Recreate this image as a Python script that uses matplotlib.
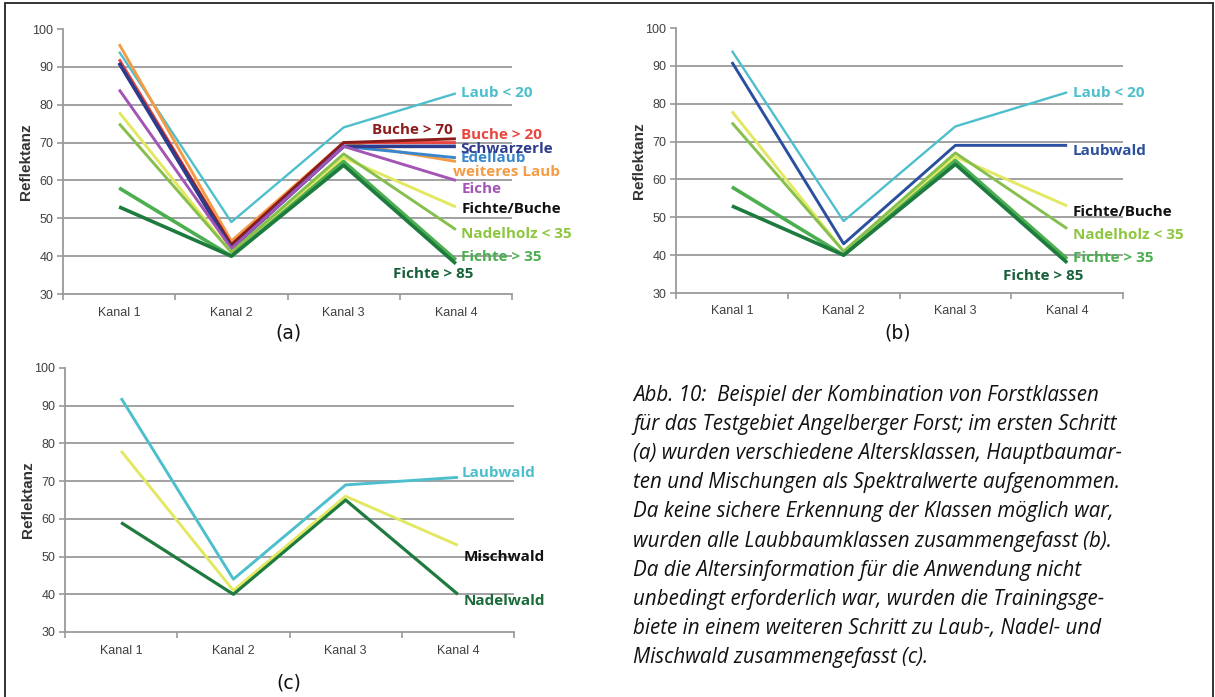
import matplotlib
matplotlib.use("Agg")
import matplotlib.pyplot as plt
from matplotlib.patches import Rectangle

# ── Data ──────────────────────────────────────────────────────────────────────

kanal = ["Kanal 1", "Kanal 2", "Kanal 3", "Kanal 4"]
y_ticks = [30, 40, 50, 60, 70, 80, 90, 100]

# (a) all age / species classes
names_a = ["Laub < 20", "weiteres Laub", "Edellaub", "Buche > 20", "Buche > 70",
           "Schwarzerle", "Eiche", "Fichte/Buche", "Nadelholz < 35",
           "Fichte > 35", "Fichte > 85"]
values_a = [
    [94, 49, 74, 83],
    [96, 44, 70, 65],
    [91, 43, 69, 66],
    [92, 43, 70, 70],
    [91, 43, 70, 71],
    [91, 42, 69, 69],
    [84, 42, 69, 60],
    [78, 41, 66, 53],
    [75, 41, 67, 47],
    [58, 40, 65, 39],
    [53, 40, 64, 38],
]

# (b) broadleaf classes merged
names_b = ["Laub < 20", "Laubwald", "Fichte/Buche", "Nadelholz < 35",
           "Fichte > 35", "Fichte > 85"]
values_b = [
    [94, 49, 74, 83],
    [91, 43, 69, 69],
    [78, 41, 66, 53],
    [75, 41, 67, 47],
    [58, 40, 65, 39],
    [53, 40, 64, 38],
]

# (c) broadleaf / conifer / mixed
names_c = ["Laubwald", "Mischwald", "Nadelwald"]
values_c = [
    [92, 44, 69, 71],
    [78, 41, 66, 53],
    [59, 40, 65, 40],
]

caption = [
    "Abb. 10:  Beispiel der Kombination von Forstklassen",
    "für das Testgebiet Angelberger Forst; im ersten Schritt",
    "(a) wurden verschiedene Altersklassen, Hauptbaumar-",
    "ten und Mischungen als Spektralwerte aufgenommen.",
    "Da keine sichere Erkennung der Klassen möglich war,",
    "wurden alle Laubbaumklassen zusammengefasst (b).",
    "Da die Altersinformation für die Anwendung nicht",
    "unbedingt erforderlich war, wurden die Trainingsge-",
    "biete in einem weiteren Schritt zu Laub-, Nadel- und",
    "Mischwald zusammengefasst (c).",
]

# ── Styles ────────────────────────────────────────────────────────────────────

# name: (line colour, label colour, line width)
style = {
    "Laub < 20":      ("#4dbfcc", "#4dbfcc", 1.7),
    "weiteres Laub":  ("#f39c45", "#f39c45", 2.1),
    "Edellaub":       ("#3a86cc", "#3a86cc", 2.1),
    "Buche > 20":     ("#e8473f", "#e8473f", 2.1),
    "Buche > 70":     ("#8c1c1c", "#8c1c1c", 2.1),
    "Schwarzerle":    ("#2e3c8e", "#2e3c8e", 2.6),
    "Eiche":          ("#a355b5", "#a355b5", 2.1),
    "Fichte/Buche":   ("#e3e861", "#111111", 2.1),
    "Nadelholz < 35": ("#86bf4e", "#8dc63f", 2.1),
    "Fichte > 35":    ("#4bae4f", "#4bae4f", 2.6),
    "Fichte > 85":    ("#1e7b3e", "#17603a", 2.6),
    "Laubwald":       ("#2b4fa0", "#2b4f9e", 2.1),
    "Mischwald":      ("#e3e861", "#111111", 2.1),
    "Nadelwald":      ("#1e7b3e", "#1a6b3a", 2.3),
}

# label anchor (x in category units, y in Reflektanz, horizontal alignment)
label_pos_a = {
    "Laub < 20":      (3.05, 83.0, "left"),
    "Buche > 70":     (2.97, 73.4, "right"),
    "Buche > 20":     (3.05, 71.9, "left"),
    "Schwarzerle":    (3.04, 68.4, "left"),
    "Edellaub":       (3.04, 66.0, "left"),
    "weiteres Laub":  (2.97, 62.3, "left"),
    "Eiche":          (3.05, 57.8, "left"),
    "Fichte/Buche":   (3.05, 52.5, "left"),
    "Nadelholz < 35": (3.05, 45.9, "left"),
    "Fichte > 35":    (3.05, 39.8, "left"),
    "Fichte > 85":    (2.44, 35.3, "left"),
}
label_pos_b = {
    "Laub < 20":      (3.05, 82.7, "left"),
    "Laubwald":       (3.05, 67.6, "left"),
    "Fichte/Buche":   (3.05, 51.5, "left"),
    "Nadelholz < 35": (3.05, 45.3, "left"),
    "Fichte > 35":    (3.05, 39.3, "left"),
    "Fichte > 85":    (2.43, 34.5, "left"),
}
label_pos_c = {
    "Laubwald":  (3.03, 72.2, "left"),
    "Mischwald": (3.05, 49.8, "left"),
    "Nadelwald": (3.05, 38.1, "left"),
}
line_colour_c = {"Laubwald": "#4dbfcc"}

W, H = 1215, 697
GRID = "#9a9a9a"
TXT = "#404040"

fig = plt.figure(figsize=(W / 100, H / 100), dpi=100)


def px_axes(left, top, right, bottom):
    return fig.add_axes([left / W, 1 - bottom / H, (right - left) / W, (bottom - top) / H])


def draw_panel(ax, names, values, label_pos, colour_override=None):
    x = range(len(kanal))
    for g in y_ticks[1:-1]:
        ax.axhline(g, color=GRID, lw=1.3, zorder=1)
    for name, vals in zip(names, values):
        lc, tc, lw = style[name]
        if colour_override and name in colour_override:
            lc = tc = colour_override[name]
        ax.plot(x, vals, color=lc, lw=lw, zorder=3, solid_capstyle="butt")
        lx, ly, ha = label_pos[name]
        ax.text(lx, ly, name, color=tc, fontsize=11, fontweight="bold",
                family="Open Sans", ha=ha, va="center", zorder=4)

    ax.set_xlim(-0.5, len(kanal) - 0.5)
    ax.set_ylim(30, 100)
    ax.set_yticks(y_ticks)
    ax.set_yticklabels([str(t) for t in y_ticks], fontsize=9, color=TXT,
                       family="Liberation Sans")
    ax.set_xticks([i - 0.5 for i in range(len(kanal) + 1)])
    ax.set_xticklabels([])
    ax.set_xticks(list(x), minor=True)
    ax.set_xticklabels(kanal, minor=True, fontsize=9, color=TXT,
                       family="Liberation Sans")
    ax.tick_params(axis="x", which="minor", length=0, pad=9)
    ax.tick_params(axis="both", which="major", length=4, width=1.2, color=GRID)
    ax.tick_params(axis="y", pad=3)
    ax.set_ylabel("Reflektanz", fontsize=11, fontweight="bold", color="#333333",
                  family="Liberation Sans")
    ax.yaxis.set_label_coords(-0.066, 0.5)
    for side in ("top", "right"):
        ax.spines[side].set_visible(False)
    for side in ("left", "bottom"):
        ax.spines[side].set_color(GRID)
        ax.spines[side].set_linewidth(1.3)
    ax.set_facecolor("none")


ax_a = px_axes(63, 29, 512, 294)
draw_panel(ax_a, names_a, values_a, label_pos_a)
ax_b = px_axes(676, 28, 1123, 293)
draw_panel(ax_b, names_b, values_b, label_pos_b)
ax_c = px_axes(65, 368, 514, 632)
draw_panel(ax_c, names_c, values_c, label_pos_c, colour_override=line_colour_c)

# sub-figure letters
for letter, (cx, cy) in {"(a)": (288, 333), "(b)": (898, 333), "(c)": (289, 683)}.items():
    fig.text(cx / W, 1 - cy / H, letter, fontsize=13.5, color="#111111",
             family="DejaVu Sans", ha="center", va="center")

# figure caption, one text per printed line
for i, line in enumerate(caption):
    fig.text(633 / W, 1 - (395 + i * 29.2) / H, line, fontsize=14.8,
             style="italic", family="Open Sans", color="#111111",
             ha="left", va="center")

# outer frame
fig.patches.append(Rectangle((5 / W, -0.05), (1213 - 5) / W, 1 - 3 / H + 0.05,
                             transform=fig.transFigure, fill=False,
                             edgecolor="#222222", lw=1.3))

fig.savefig("out.png", dpi=100)
